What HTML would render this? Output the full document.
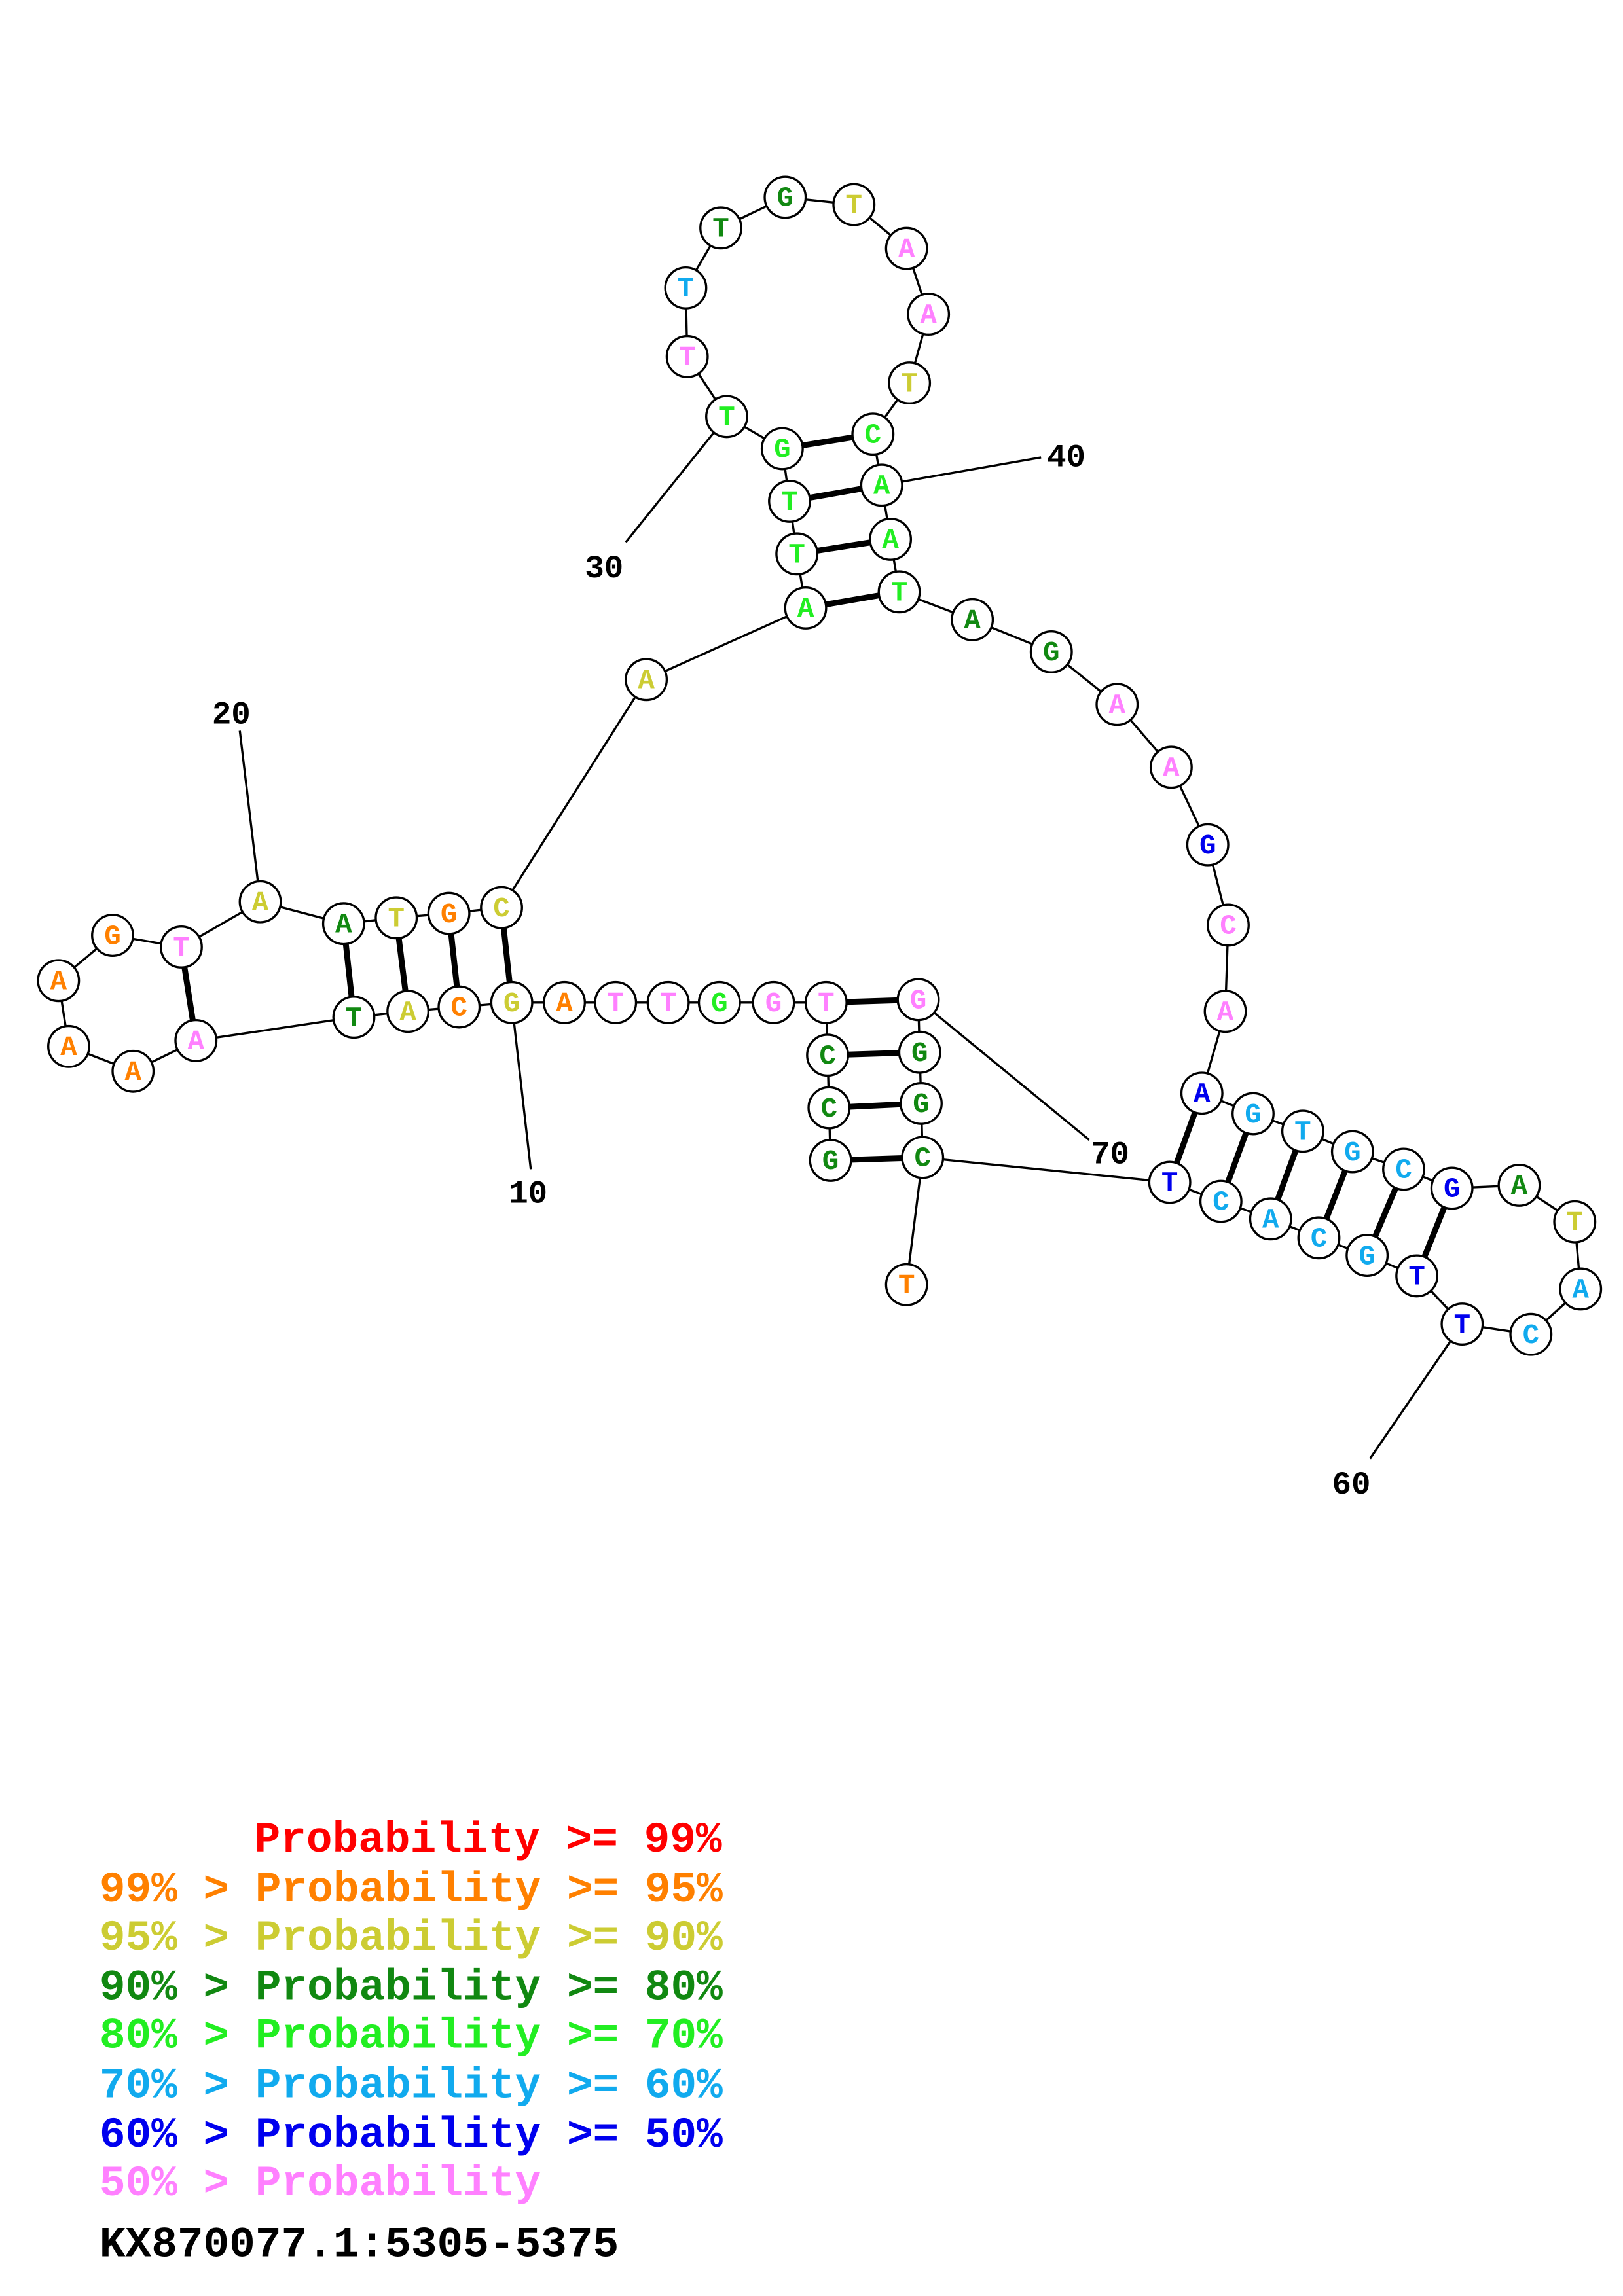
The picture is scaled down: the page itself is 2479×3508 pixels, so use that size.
<!DOCTYPE html>
<html><head><meta charset="utf-8"><style>
html,body{margin:0;padding:0;background:#fff;width:2479px;height:3508px;overflow:hidden}
svg{display:block}
.n text{font-family:"Liberation Mono",monospace;font-weight:bold;font-size:19px;text-anchor:middle;dominant-baseline:central}
.lab{font-family:"Liberation Mono",monospace;font-weight:bold;font-size:22px;fill:#000}
.leg{font-family:"Liberation Mono",monospace;font-weight:bold;font-size:29.6px}
</style></head><body>
<svg width="2479" height="3508" viewBox="0 0 1110 1571" preserveAspectRatio="none" xmlns="http://www.w3.org/2000/svg">
<g stroke="#000" stroke-width="1.5" fill="none">
<!-- backbone -->
<polyline points="568,794 567,758 566,722 565,686 529,686 492,686 457,686 421,686 386,686 350,686 314,689 279,692 242,696 134,712 91,733 47,716 40,671 77,640 124,648 178,617 235,632 271,628 307,625 343,621 442,465 551,416 545,379 540,343 535,307 497,285 470,244 469,197 493,156 537,135 584,140 620,170 635,215 622,262 597,297 603,332 609,369 615,405 665,424 719,446 764,482 801,525 826,578 840,633 838,692 822,748 857,762 891,774 925,788 960,800 993,813 1039,811 1077,836 1081,882 1047,913 1000,906 969,873 935,859 902,847 869,834 835,822 800,809 631,792 630,755 629,720 628,684"/>
<line x1="631" y1="792" x2="620" y2="879"/>
<!-- ticks -->
<line x1="350" y1="686" x2="363" y2="800"/>
<line x1="178" y1="617" x2="164" y2="500"/>
<line x1="497" y1="285" x2="428" y2="371"/>
<line x1="603" y1="332" x2="712" y2="313"/>
<line x1="1000" y1="906" x2="937" y2="998"/>
<line x1="628" y1="684" x2="745" y2="780"/>
</g>
<g stroke="#000" stroke-width="4">
<line x1="350" y1="686" x2="343" y2="621"/>
<line x1="314" y1="689" x2="307" y2="625"/>
<line x1="279" y1="692" x2="271" y2="628"/>
<line x1="242" y1="696" x2="235" y2="632"/>
<line x1="134" y1="712" x2="124" y2="648"/>
<line x1="551" y1="416" x2="615" y2="405"/>
<line x1="545" y1="379" x2="609" y2="369"/>
<line x1="540" y1="343" x2="603" y2="332"/>
<line x1="535" y1="307" x2="597" y2="297"/>
<line x1="565" y1="686" x2="628" y2="684"/>
<line x1="566" y1="722" x2="629" y2="720"/>
<line x1="567" y1="758" x2="630" y2="755"/>
<line x1="568" y1="794" x2="631" y2="792"/>
<line x1="822" y1="748" x2="800" y2="809"/>
<line x1="857" y1="762" x2="835" y2="822"/>
<line x1="891" y1="774" x2="869" y2="834"/>
<line x1="925" y1="788" x2="902" y2="847"/>
<line x1="960" y1="800" x2="935" y2="859"/>
<line x1="993" y1="813" x2="969" y2="873"/>
</g>
<g class="n" stroke="#000" stroke-width="1.5">
<defs><circle id="c" r="14" fill="#fff"/></defs>
</g>
<g class="n">
<!-- Y=#cccc33 O=#ff8000 D=#118811 G=#22ee22 S=#11aaee B=#0000ee P=#ff80ff -->
<g fill="#fff" stroke="#000" stroke-width="1.5">
<circle cx="350" cy="686" r="14"/><circle cx="314" cy="689" r="14"/><circle cx="279" cy="692" r="14"/><circle cx="242" cy="696" r="14"/><circle cx="134" cy="712" r="14"/><circle cx="91" cy="733" r="14"/><circle cx="47" cy="716" r="14"/><circle cx="40" cy="671" r="14"/><circle cx="77" cy="640" r="14"/><circle cx="124" cy="648" r="14"/><circle cx="178" cy="617" r="14"/><circle cx="235" cy="632" r="14"/><circle cx="271" cy="628" r="14"/><circle cx="307" cy="625" r="14"/><circle cx="343" cy="621" r="14"/><circle cx="442" cy="465" r="14"/><circle cx="551" cy="416" r="14"/><circle cx="545" cy="379" r="14"/><circle cx="540" cy="343" r="14"/><circle cx="535" cy="307" r="14"/><circle cx="497" cy="285" r="14"/><circle cx="470" cy="244" r="14"/><circle cx="469" cy="197" r="14"/><circle cx="493" cy="156" r="14"/><circle cx="537" cy="135" r="14"/><circle cx="584" cy="140" r="14"/><circle cx="620" cy="170" r="14"/><circle cx="635" cy="215" r="14"/><circle cx="622" cy="262" r="14"/><circle cx="597" cy="297" r="14"/><circle cx="603" cy="332" r="14"/><circle cx="609" cy="369" r="14"/><circle cx="615" cy="405" r="14"/><circle cx="665" cy="424" r="14"/><circle cx="719" cy="446" r="14"/><circle cx="764" cy="482" r="14"/><circle cx="801" cy="525" r="14"/><circle cx="826" cy="578" r="14"/><circle cx="840" cy="633" r="14"/><circle cx="838" cy="692" r="14"/><circle cx="822" cy="748" r="14"/><circle cx="857" cy="762" r="14"/><circle cx="891" cy="774" r="14"/><circle cx="925" cy="788" r="14"/><circle cx="960" cy="800" r="14"/><circle cx="993" cy="813" r="14"/><circle cx="1039" cy="811" r="14"/><circle cx="1077" cy="836" r="14"/><circle cx="1081" cy="882" r="14"/><circle cx="1047" cy="913" r="14"/><circle cx="1000" cy="906" r="14"/><circle cx="969" cy="873" r="14"/><circle cx="935" cy="859" r="14"/><circle cx="902" cy="847" r="14"/><circle cx="869" cy="834" r="14"/><circle cx="835" cy="822" r="14"/><circle cx="800" cy="809" r="14"/><circle cx="631" cy="792" r="14"/><circle cx="630" cy="755" r="14"/><circle cx="629" cy="720" r="14"/><circle cx="628" cy="684" r="14"/><circle cx="620" cy="879" r="14"/><circle cx="565" cy="686" r="14"/><circle cx="566" cy="722" r="14"/><circle cx="567" cy="758" r="14"/><circle cx="568" cy="794" r="14"/><circle cx="529" cy="686" r="14"/><circle cx="492" cy="686" r="14"/><circle cx="457" cy="686" r="14"/><circle cx="421" cy="686" r="14"/><circle cx="386" cy="686" r="14"/>
</g>
<text x="350" y="687" fill="#cccc33">G</text><text x="314" y="690" fill="#ff8000">C</text><text x="279" y="693" fill="#cccc33">A</text><text x="242" y="697" fill="#118811">T</text><text x="134" y="713" fill="#ff80ff">A</text><text x="91" y="734" fill="#ff8000">A</text><text x="47" y="717" fill="#ff8000">A</text><text x="40" y="672" fill="#ff8000">A</text><text x="77" y="641" fill="#ff8000">G</text><text x="124" y="649" fill="#ff80ff">T</text><text x="178" y="618" fill="#cccc33">A</text><text x="235" y="633" fill="#118811">A</text><text x="271" y="629" fill="#cccc33">T</text><text x="307" y="626" fill="#ff8000">G</text><text x="343" y="622" fill="#cccc33">C</text><text x="442" y="466" fill="#cccc33">A</text><text x="551" y="417" fill="#22ee22">A</text><text x="545" y="380" fill="#22ee22">T</text><text x="540" y="344" fill="#22ee22">T</text><text x="535" y="308" fill="#22ee22">G</text><text x="497" y="286" fill="#22ee22">T</text><text x="470" y="245" fill="#ff80ff">T</text><text x="469" y="198" fill="#11aaee">T</text><text x="493" y="157" fill="#118811">T</text><text x="537" y="136" fill="#118811">G</text><text x="584" y="141" fill="#cccc33">T</text><text x="620" y="171" fill="#ff80ff">A</text><text x="635" y="216" fill="#ff80ff">A</text><text x="622" y="263" fill="#cccc33">T</text><text x="597" y="298" fill="#22ee22">C</text><text x="603" y="333" fill="#22ee22">A</text><text x="609" y="370" fill="#22ee22">A</text><text x="615" y="406" fill="#22ee22">T</text><text x="665" y="425" fill="#118811">A</text><text x="719" y="447" fill="#118811">G</text><text x="764" y="483" fill="#ff80ff">A</text><text x="801" y="526" fill="#ff80ff">A</text><text x="826" y="579" fill="#0000ee">G</text><text x="840" y="634" fill="#ff80ff">C</text><text x="838" y="693" fill="#ff80ff">A</text><text x="822" y="749" fill="#0000ee">A</text><text x="857" y="763" fill="#11aaee">G</text><text x="891" y="775" fill="#11aaee">T</text><text x="925" y="789" fill="#11aaee">G</text><text x="960" y="801" fill="#11aaee">C</text><text x="993" y="814" fill="#0000ee">G</text><text x="1039" y="812" fill="#118811">A</text><text x="1077" y="837" fill="#cccc33">T</text><text x="1081" y="883" fill="#11aaee">A</text><text x="1047" y="914" fill="#11aaee">C</text><text x="1000" y="907" fill="#0000ee">T</text><text x="969" y="874" fill="#0000ee">T</text><text x="935" y="860" fill="#11aaee">G</text><text x="902" y="848" fill="#11aaee">C</text><text x="869" y="835" fill="#11aaee">A</text><text x="835" y="823" fill="#11aaee">C</text><text x="800" y="810" fill="#0000ee">T</text><text x="631" y="793" fill="#118811">C</text><text x="630" y="756" fill="#118811">G</text><text x="629" y="721" fill="#118811">G</text><text x="628" y="685" fill="#ff80ff">G</text><text x="620" y="880" fill="#ff8000">T</text><text x="565" y="687" fill="#ff80ff">T</text><text x="566" y="723" fill="#118811">C</text><text x="567" y="759" fill="#118811">C</text><text x="568" y="795" fill="#118811">G</text><text x="529" y="687" fill="#ff80ff">G</text><text x="492" y="687" fill="#22ee22">G</text><text x="457" y="687" fill="#ff80ff">T</text><text x="421" y="687" fill="#ff80ff">T</text><text x="386" y="687" fill="#ff8000">A</text>
</g>
<g class="lab">
<text x="348" y="823">10</text><text x="145" y="495">20</text><text x="400" y="395">30</text><text x="716" y="319">40</text><text x="911" y="1022">60</text><text x="746" y="796">70</text>
</g>
<g class="leg">
<text x="174" y="1267" fill="#ff0000">Probability &gt;= 99%</text>
<text x="68" y="1301" fill="#ff8000">99% &gt; Probability &gt;= 95%</text>
<text x="68" y="1334" fill="#cccc33">95% &gt; Probability &gt;= 90%</text>
<text x="68" y="1368" fill="#118811">90% &gt; Probability &gt;= 80%</text>
<text x="68" y="1401" fill="#22ee22">80% &gt; Probability &gt;= 70%</text>
<text x="68" y="1435" fill="#11aaee">70% &gt; Probability &gt;= 60%</text>
<text x="68" y="1469" fill="#0000ee">60% &gt; Probability &gt;= 50%</text>
<text x="68" y="1502" fill="#ff80ff">50% &gt; Probability</text>
<text x="68" y="1544" fill="#000">KX870077.1:5305-5375</text>
</g>
</svg>
</body></html>
